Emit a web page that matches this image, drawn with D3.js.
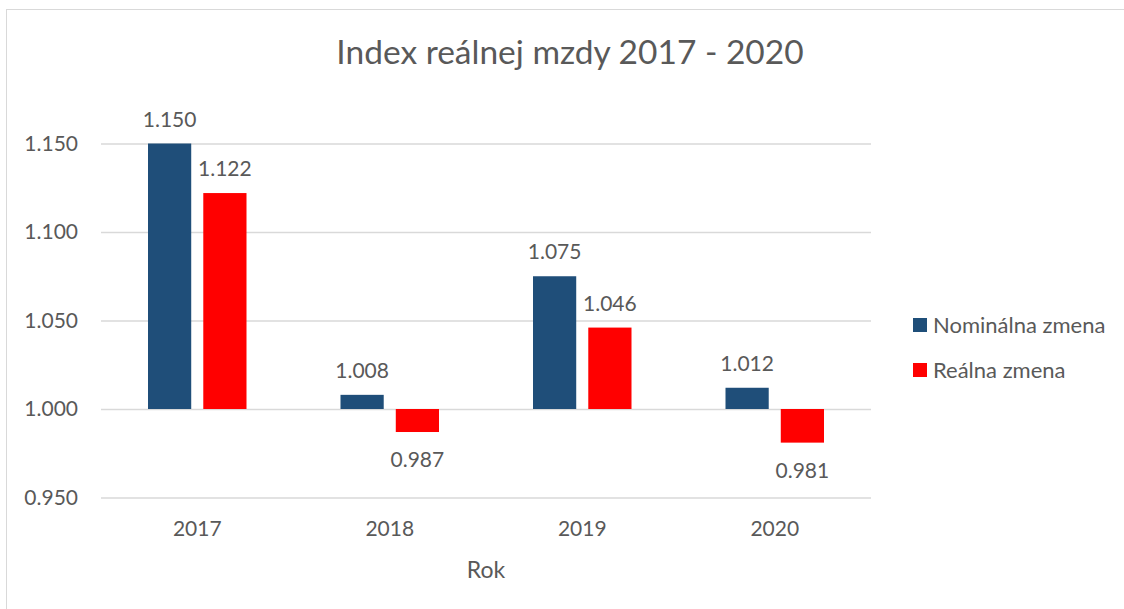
<!DOCTYPE html>
<html>
<head>
<meta charset="utf-8">
<script src="https://cdn.jsdelivr.net/npm/d3@7"></script>
<style>
  body { margin: 0; background: #fff; }
  text { font-family: Lato, "Open Sans", sans-serif; fill: #595959; }
</style>
</head>
<body>
<script>
var width = 1124,
    height = 609;

var years = ['2017', '2018', '2019', '2020'];
var seriesNames = ['Nominálna zmena', 'Reálna zmena'];
var nominal = [1.150, 1.008, 1.075, 1.012];
var real = [1.122, 0.987, 1.046, 0.981];
var yTicks = [0.950, 1.000, 1.050, 1.100, 1.150];
var colors = ['#1f4e79', '#ff0000'];

var margin = {left: 101, right: 871, top: 143.5, bottom: 497.5};

var svg = d3.select('body').append('svg')
    .attr('width', width)
    .attr('height', height);

// chart border
svg.append('rect')
    .attr('x', 6.5)
    .attr('y', 9.5)
    .attr('width', 1130)
    .attr('height', 620)
    .attr('fill', 'none')
    .attr('stroke', '#d9d9d9');

svg.append('text')
    .attr('x', 570)
    .attr('y', 64)
    .attr('text-anchor', 'middle')
    .style('font-size', '33.5px')
    .text('Index reálnej mzdy 2017 - 2020');

var y = d3.scaleLinear()
    .domain([0.95, 1.15])
    .range([margin.bottom, margin.top]);

var x0 = d3.scaleBand()
    .domain(years)
    .range([margin.left, margin.right]);

var x1 = d3.scaleBand()
    .domain(seriesNames)
    .range([47, x0.bandwidth() - 47])
    .paddingInner(12 / 55);

// gridlines + y labels
var yAxis = svg.append('g')
    .attr('transform', 'translate(' + margin.left + ',0)')
    .call(d3.axisLeft(y).tickValues(yTicks).tickFormat(d3.format('.3f'))
        .tickSize(-(margin.right - margin.left)).tickPadding(23));
yAxis.select('.domain').remove();
yAxis.selectAll('line').attr('stroke', '#d9d9d9').attr('stroke-width', 1.5);
yAxis.selectAll('text')
    .style('font-size', '21px')
    .attr('fill', '#595959');

var data = [];
years.forEach(function (yr, i) {
    data.push({year: yr, s: seriesNames[0], v: nominal[i], c: colors[0]});
    data.push({year: yr, s: seriesNames[1], v: real[i], c: colors[1]});
});

var base = y(1.0);

svg.append('g').selectAll('rect')
    .data(data)
    .enter().append('rect')
    .attr('x', function (d) { return x0(d.year) + x1(d.s); })
    .attr('width', x1.bandwidth())
    .attr('y', function (d) { return Math.min(y(d.v), base); })
    .attr('height', function (d) { return Math.abs(y(d.v) - base); })
    .attr('fill', function (d) { return d.c; });

svg.append('g').selectAll('text')
    .data(data)
    .enter().append('text')
    .attr('x', function (d) { return x0(d.year) + x1(d.s) + x1.bandwidth() / 2; })
    .attr('y', function (d) { return d.v >= 1 ? y(d.v) - 17 : y(d.v) + 35; })
    .attr('text-anchor', 'middle')
    .style('font-size', '21px')
    .text(function (d) { return d3.format('.3f')(d.v); });

// x axis labels
var xAxis = svg.append('g')
    .attr('transform', 'translate(0,' + margin.bottom + ')')
    .call(d3.axisBottom(x0).tickSize(0).tickPadding(24));
xAxis.select('.domain').remove();
xAxis.selectAll('text')
    .style('font-size', '21px')
    .attr('fill', '#595959');

svg.append('text')
    .attr('x', (margin.left + margin.right) / 2)
    .attr('y', 578)
    .attr('text-anchor', 'middle')
    .style('font-size', '23px')
    .text('Rok');

// legend
var legend = svg.append('g').selectAll('g')
    .data(seriesNames)
    .enter().append('g')
    .attr('transform', function (d, i) { return 'translate(913,' + (318 + i * 45) + ')'; });
legend.append('rect')
    .attr('width', 14)
    .attr('height', 14)
    .attr('fill', function (d, i) { return colors[i]; });
legend.append('text')
    .attr('x', 20)
    .attr('y', 15)
    .style('font-size', '22px')
    .text(function (d) { return d; });
</script>
</body>
</html>
